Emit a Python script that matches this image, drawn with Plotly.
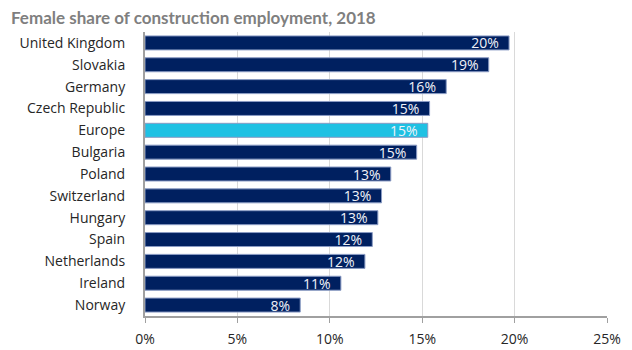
import plotly.graph_objects as go

countries = ["United Kingdom", "Slovakia", "Germany", "Czech Republic", "Europe",
             "Bulgaria", "Poland", "Switzerland", "Hungary", "Spain",
             "Netherlands", "Ireland", "Norway"]
shares = [0.197, 0.186, 0.163, 0.154, 0.153, 0.147, 0.133, 0.128, 0.126,
          0.123, 0.119, 0.106, 0.084]
tick_vals = [0, 0.05, 0.10, 0.15, 0.20, 0.25]
tick_text = ["0%", "5%", "10%", "15%", "20%", "25%"]

NAVY = "#002060"
LIGHT = "#1fc1e3"
colors = [LIGHT if c == "Europe" else NAVY for c in countries]

fig = go.Figure(go.Bar(
    x=shares,
    y=countries,
    orientation="h",
    marker=dict(color=colors, line=dict(color="#8a9bc4", width=1)),
    texttemplate="%{x:.0%}\u00a0\u00a0",
    textposition="inside",
    insidetextanchor="end",
    textangle=0,
    textfont=dict(family="Open Sans", size=14, color="#f0f2f8"),
    cliponaxis=False,
))

fig.update_layout(
    width=632, height=350,
    margin=dict(l=145, r=25, t=32, b=34),
    paper_bgcolor="white", plot_bgcolor="white",
    bargap=0.36,
    showlegend=False,
    font=dict(family="Open Sans", size=14, color="#262626"),
    uniformtext=dict(minsize=8, mode="show"),
    annotations=[dict(
        text="<b>Female share of construction employment, 2018</b>",
        x=0, y=1, xref="paper", yref="paper", xanchor="left", yanchor="middle",
        xshift=-136, yshift=15,
        showarrow=False,
        font=dict(family="Lato", size=17, color="#7f7f7f"),
    )],
)

fig.update_xaxes(
    range=[0, 0.25],
    tickvals=tick_vals, ticktext=tick_text,
    showgrid=True, gridcolor="#d9d9d9", gridwidth=1,
    showline=True, linecolor="#a0a0a0", linewidth=2,
    ticks="outside", ticklen=5, tickcolor="#a0a0a0",
    ticklabelstandoff=4,
    automargin=False,
    zeroline=False,
    tickfont=dict(size=14, color="#262626"),
)
fig.update_yaxes(
    categoryorder="array", categoryarray=countries[::-1],
    showline=True, linecolor="#a0a0a0", linewidth=2,
    ticks="", ticklabelstandoff=15,
    automargin=False,
    showgrid=False,
    tickfont=dict(size=14, color="#262626"),
)

fig.write_html("out.html")
